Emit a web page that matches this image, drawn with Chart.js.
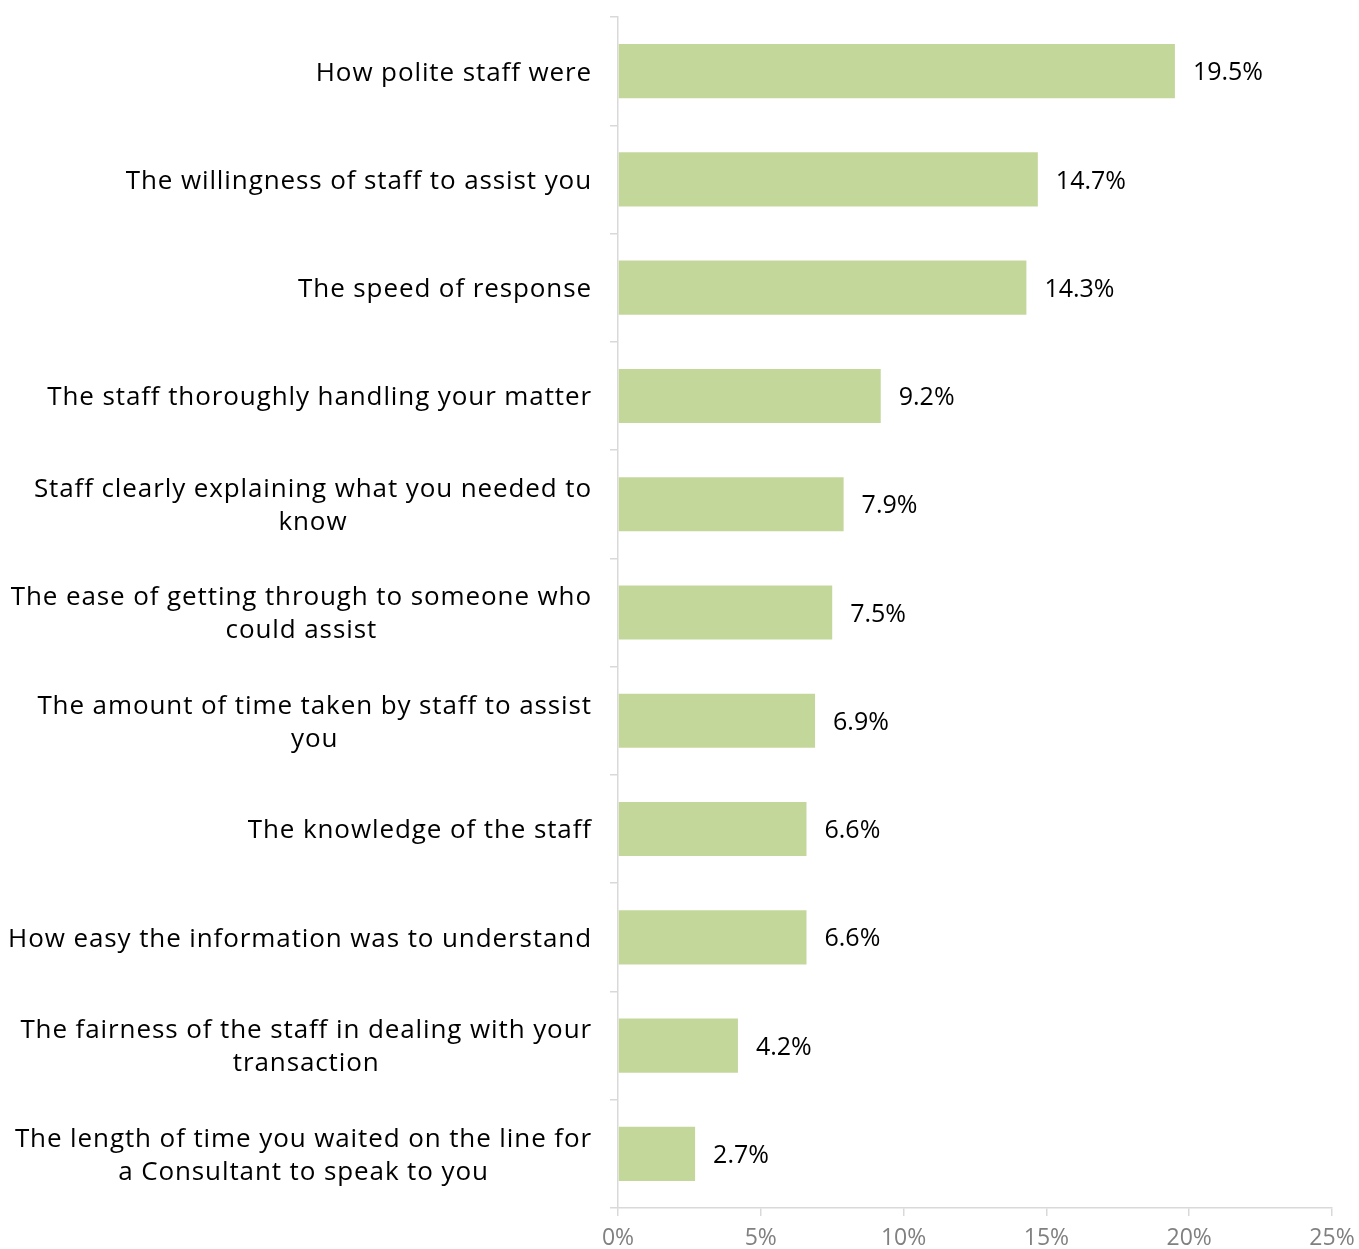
<!DOCTYPE html>
<html>
<head>
<meta charset="utf-8">
<style>
  html, body { margin: 0; padding: 0; background: #ffffff; }
  #wrap { width: 1359px; height: 1249px; position: relative; }
</style>
<script src="https://cdn.jsdelivr.net/npm/chart.js@4/dist/chart.umd.min.js"></script>
</head>
<body>
<div id="wrap"><canvas id="chart" width="1359" height="1249"></canvas></div>
<script>
// Aspects of service rated by respondents (share of mentions, %)
const categories = [
  ["How polite staff were"],
  ["The willingness of staff to assist you"],
  ["The speed of response"],
  ["The staff thoroughly handling your matter"],
  ["Staff clearly explaining what you needed to", "know"],
  ["The ease of getting through to someone who", "could assist"],
  ["The amount of time taken by staff to assist", "you"],
  ["The knowledge of the staff"],
  ["How easy the information was to understand"],
  ["The fairness of the staff in dealing with your", "transaction"],
  ["The length of time you waited on the line for", "a Consultant to speak to you"]
];
const shares = [19.5, 14.7, 14.3, 9.2, 7.9, 7.5, 6.9, 6.6, 6.6, 4.2, 2.7];
const xTicks = [0, 5, 10, 15, 20, 25];

const FONT = "'Open Sans', 'DejaVu Sans', sans-serif";

// Category labels: block right-aligned to the axis, lines centred within the block
const categoryLabels = {
  id: 'categoryLabels',
  afterDraw(chart) {
    const ctx = chart.ctx;
    const y = chart.scales.y;
    ctx.save();
    ctx.font = "26px " + FONT;
    ctx.letterSpacing = '0.9px';
    ctx.fillStyle = '#000000';
    ctx.textBaseline = 'middle';
    ctx.textAlign = 'center';
    const lineH = 33;
    categories.forEach((lines, i) => {
      const widest = Math.max(...lines.map(l => ctx.measureText(l).width));
      const cx = y.right - 26 - widest / 2;
      const cy = y.getPixelForValue(i) + 2;
      const top = cy - (lines.length - 1) * lineH / 2;
      lines.forEach((l, k) => ctx.fillText(l, cx, top + k * lineH));
    });
    ctx.restore();
  }
};

// Value labels to the right of each bar
const valueLabels = {
  id: 'valueLabels',
  afterDatasetsDraw(chart) {
    const ctx = chart.ctx;
    const meta = chart.getDatasetMeta(0);
    ctx.save();
    ctx.font = "25px " + FONT;
    ctx.fillStyle = '#000000';
    ctx.textBaseline = 'middle';
    ctx.textAlign = 'left';
    meta.data.forEach((bar, i) => {
      ctx.fillText(shares[i].toFixed(1) + '%', bar.x + 18, bar.y + 2);
    });
    ctx.restore();
  }
};

new Chart(document.getElementById('chart'), {
  type: 'bar',
  data: {
    labels: categories.map(c => c.join(' ')),
    datasets: [{
      data: shares,
      backgroundColor: '#c4d79b',
      borderWidth: 0,
      barPercentage: 0.5,
      categoryPercentage: 1.0
    }]
  },
  options: {
    indexAxis: 'y',
    responsive: false,
    animation: false,
    devicePixelRatio: 1,
    layout: { padding: { top: 17, right: 0, left: 0, bottom: 0 } },
    plugins: { legend: { display: false }, tooltip: { enabled: false } },
    scales: {
      x: {
        min: 0,
        max: 25,
        afterBuildTicks: s => { s.ticks = xTicks.map(v => ({ value: v })); },
        afterFit: s => { s.height = 41; s.paddingRight = 27; s.paddingLeft = 0; },
        grid: { display: true, drawOnChartArea: false, tickLength: 8, color: '#d9d9d9', lineWidth: 1.5 },
        border: { display: true, color: '#d9d9d9', width: 1.5 },
        ticks: {
          padding: 9,
          color: '#808080',
          font: { family: FONT, size: 23 },
          maxRotation: 0,
          callback: v => v + '%'
        }
      },
      y: {
        afterFit: s => { s.width = 618; },
        grid: { display: true, offset: true, drawOnChartArea: false, tickLength: 8, color: '#d9d9d9', lineWidth: 1.5 },
        border: { display: true, color: '#d9d9d9', width: 1.5 },
        ticks: { display: false }
      }
    }
  },
  plugins: [categoryLabels, valueLabels]
});
</script>
</body>
</html>
